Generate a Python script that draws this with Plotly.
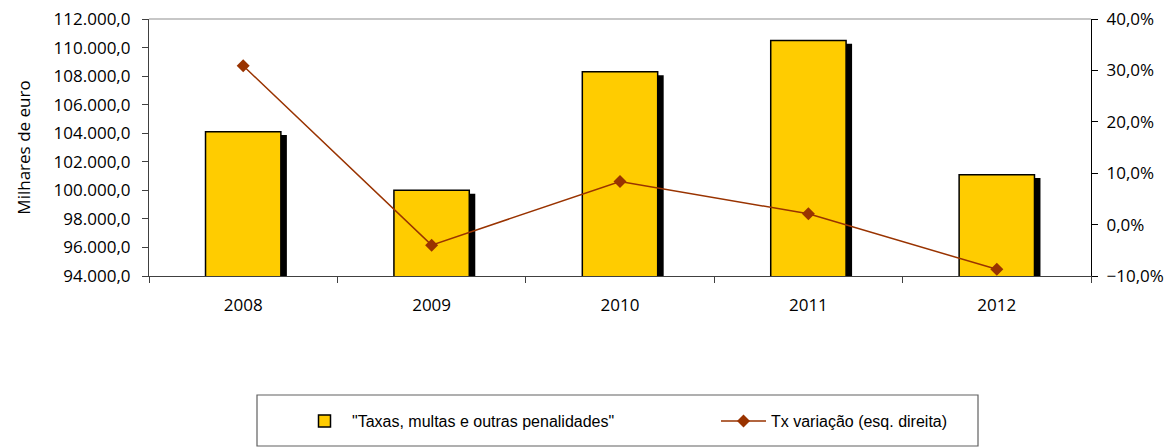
import plotly.graph_objects as go

years = ["2008", "2009", "2010", "2011", "2012"]
valores = [104100.0, 100000.0, 108300.0, 110500.0, 101100.0]
variacao = [0.309, -0.040, 0.084, 0.021, -0.087]

bar_name = '"Taxas, multas e outras penalidades"'
line_name = "Tx variação (esq. direita)"

# page has an 8px body margin; figure coordinates are screen minus 8
OFF = 8
W, H = 1173 - OFF, 448 - OFF
ML, MR, MT, MB = 149 - OFF, 82, 19 - OFF, 172
PW, PH = W - ML - MR, H - MT - MB


def px_x(sx):
    return (sx - OFF - ML) / PW


def px_y(sy):
    return (MT + PH - (sy - OFF)) / PH


y_lo, y_hi = 94000, 112000
# shadow drop of ~3px expressed in data units
drop = 3.3 * (y_hi - y_lo) / PH
shadow = [v - drop for v in valores]
cat_px = PW / len(years)

fig = go.Figure()
fig.add_trace(go.Bar(
    x=years, y=shadow, width=0.4, offset=-0.2 + 6 / cat_px,
    marker=dict(color="black", line=dict(width=0)),
    showlegend=False, hoverinfo="skip"))
fig.add_trace(go.Bar(
    x=years, y=valores, width=0.4, offset=-0.2, name=bar_name,
    marker=dict(color="#FFCC00", line=dict(color="black", width=1.5))))
fig.add_trace(go.Scatter(
    x=years, y=variacao, yaxis="y2", name=line_name, mode="lines+markers",
    line=dict(color="#993300", width=1.5),
    marker=dict(symbol="diamond", size=10, color="#993300")))

tickfont = dict(family="Open Sans, sans-serif", size=17, color="black")

fig.update_layout(
    width=W, height=H,
    margin=dict(l=ML, r=MR, t=MT, b=MB, autoexpand=False),
    paper_bgcolor="white", plot_bgcolor="white",
    separators=",.",
    barmode="overlay",
    showlegend=True,
    xaxis=dict(type="category", showgrid=False, showline=True, linecolor="#404040",
               linewidth=1.2, ticks="outside", tickson="boundaries", ticklen=6,
               tickcolor="#404040", tickfont=tickfont, ticklabelstandoff=13,
               zeroline=False, automargin=False),
    yaxis=dict(range=[y_lo, y_hi], dtick=2000, tickformat=",.1f", showgrid=False,
               showline=True, linecolor="#404040", linewidth=1.2, ticks="outside",
               ticklen=6, tickcolor="#404040", tickfont=tickfont, zeroline=False,
               automargin=False, ticklabelstandoff=8, ticklabeloverflow="allow",
               title=dict(text="Milhares de euro",
                          font=dict(family="Open Sans, sans-serif", size=17, color="black"),
                          standoff=18)),
    yaxis2=dict(range=[-0.1, 0.4], dtick=0.1, tickformat=".1%", overlaying="y", side="right",
                showgrid=False, showline=True, linecolor="black", linewidth=1.2,
                ticks="outside", ticklen=6, tickcolor="black", tickfont=tickfont,
                zeroline=False, automargin=False, ticklabelstandoff=5,
                ticklabeloverflow="allow"),
    legend=dict(orientation="h", x=px_x(297), xanchor="left",
                y=px_y(421), yanchor="middle",
                font=dict(family="Liberation Sans Narrow, Liberation Sans, Arial", size=16, color="black"),
                entrywidth=359, entrywidthmode="pixels",
                bgcolor="rgba(0,0,0,0)", itemwidth=45),
    shapes=[
        dict(type="rect", xref="paper", yref="paper",
             x0=px_x(257), x1=px_x(978), y0=px_y(446), y1=px_y(395),
             line=dict(color="#606060", width=1.2), fillcolor="rgba(0,0,0,0)"),
        dict(type="line", xref="paper", yref="paper", x0=0, x1=1, y0=1, y1=1,
             line=dict(color="#909090", width=1.2)),
    ],
)

fig.write_html("out.html")
